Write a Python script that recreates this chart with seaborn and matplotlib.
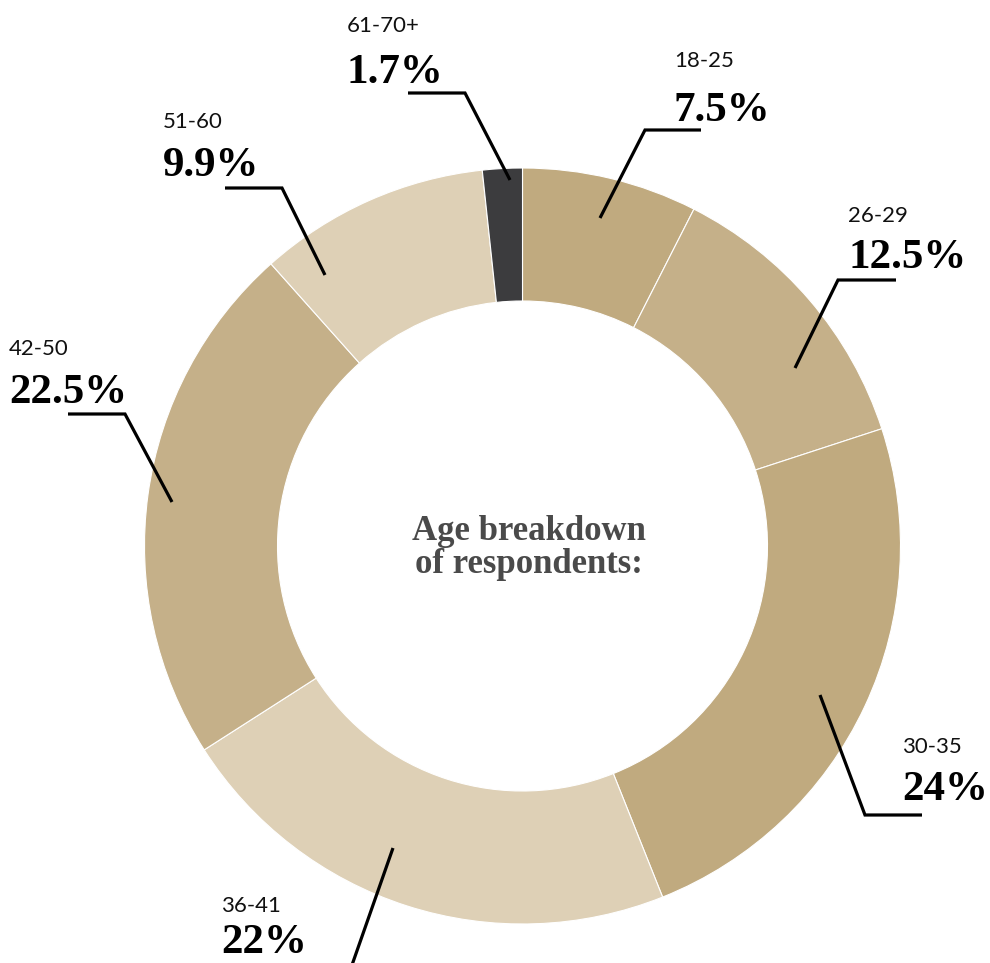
import matplotlib
matplotlib.use("Agg")
import matplotlib.pyplot as plt
import seaborn as sns

# ---- data ----
age_groups = ["18-25", "26-29", "30-35", "36-41", "42-50", "51-60", "61-70+"]
shares = [7.5, 12.5, 24, 22, 22.5, 9.9, 1.7]
slice_colors = ["#c0aa7f", "#c5b089", "#c0aa7f", "#ded0b6", "#c5b089", "#ded0b6", "#3c3c3e"]
center_title = "Age breakdown\nof respondents:"

# ---- layout (pixel coordinates, y measured from top) ----
W, H = 990, 963
CX, CY, R_OUT, R_IN = 522.5, 546, 378, 245

# label anchor (left x, baseline of age label, baseline of percent)
label_pos = {
    "18-25": (674, 67, 121),
    "26-29": (848, 222, 268),
    "30-35": (902, 753, 800),
    "36-41": (221, 912, 953),
    "42-50": (9, 355, 403),
    "51-60": (163, 128, 176),
    "61-70+": (347, 32, 83),
}
# leader polylines: start inside wedge -> elbow -> end of horizontal rule
leader_pts = {
    "18-25": [(600, 218), (645, 130), (701, 130)],
    "26-29": [(795, 368), (838, 280), (896, 280)],
    "30-35": [(820, 695), (865, 815), (922, 815)],
    "36-41": [(393, 848), (352, 965)],
    "42-50": [(172, 502), (125, 414), (68, 414)],
    "51-60": [(325, 275), (282, 188), (225, 188)],
    "61-70+": [(510, 180), (465, 93), (408, 93)],
}

sns.set_theme(style="white")
plt.rcParams["font.family"] = ["DejaVu Sans"]

fig = plt.figure(figsize=(W / 100, H / 100), dpi=100)
ax = fig.add_axes([0, 0, 1, 1])


def fy(y):
    return H - y


ax.pie(
    shares,
    colors=slice_colors,
    startangle=90,
    counterclock=False,
    center=(CX, fy(CY)),
    radius=R_OUT,
    wedgeprops=dict(width=R_OUT - R_IN, edgecolor="white", linewidth=0.8),
    frame=True,
)
ax.set_xlim(0, W)
ax.set_ylim(0, H)
ax.set_aspect("equal")
ax.axis("off")

for grp, val in zip(age_groups, shares):
    pts = leader_pts[grp]
    ax.plot([p[0] for p in pts], [fy(p[1]) for p in pts], color="black",
            lw=2.3, solid_capstyle="butt", solid_joinstyle="miter", zorder=5)
    x, yb1, yb2 = label_pos[grp]
    ax.text(x, fy(yb1), grp, fontsize=16, fontfamily="Lato", fontweight="normal",
            color="#111111", ha="left", va="baseline")
    ax.text(x, fy(yb2), f"{val:g}%", fontsize=31, fontfamily="Liberation Serif",
            fontweight="bold", color="black", ha="left", va="baseline")

ax.text(CX + 6, fy(CY + 2), center_title, fontsize=25, fontfamily="Liberation Serif",
        fontweight="bold", color="#4a4a4a", ha="center", va="center",
        linespacing=1.0)

fig.savefig("out.png", dpi=100)
